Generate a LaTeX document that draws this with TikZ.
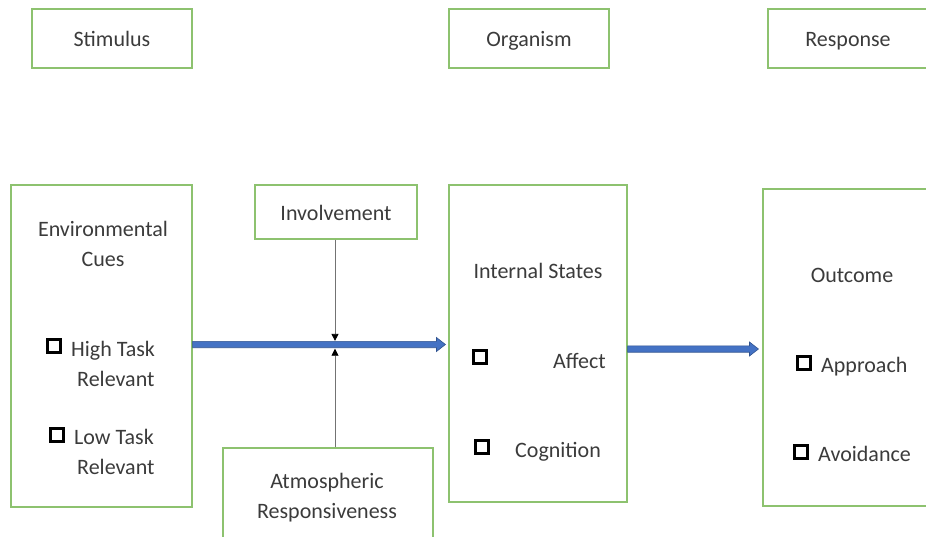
\documentclass[tikz,border=0pt]{standalone}
\usepackage{fontspec}
\setmainfont{Carlito}
\usetikzlibrary{arrows.meta,calc}
\definecolor{boxgreen}{HTML}{8DC26F}
\definecolor{txtgrey}{HTML}{3B3B3B}
\definecolor{arrowfill}{HTML}{4472C4}
\definecolor{arrowedge}{HTML}{2F528F}
\newcommand\blockarrow[2]{%
  \filldraw[fill=arrowfill,draw=arrowedge,line width=0.6pt]
    ($(#1)+(0,-3.2)$) -- ($(#2)+(-9,-3.2)$) -- ($(#2)+(-9,-7)$) -- (#2)
    -- ($(#2)+(-9,7)$) -- ($(#2)+(-9,3.2)$) -- ($(#1)+(0,3.2)$) -- cycle;}
\begin{document}
\begin{tikzpicture}[x=1pt,y=-1pt,
  gbox/.style={draw=boxgreen,line width=1.1pt,inner sep=0pt},
  lbl/.style={text=txtgrey,inner sep=0pt,anchor=base,align=center,
    font=\fontsize{22}{30}\selectfont},
  lblw/.style={lbl,anchor=base west},
  lble/.style={lbl,anchor=base east},
  sq/.style={draw=black,line width=3.2pt,minimum size=12.5pt,inner sep=0pt},
  thinarrow/.style={draw=black!55,line width=0.8pt,
    -{Triangle[length=7pt,width=7pt,color=black]}}]
\useasboundingbox (0,0) rectangle (926,537);
\clip (0,0) rectangle (926,537);
% top header boxes
\node[gbox,minimum width=160pt,minimum height=59pt] (stim) at (112,38.5) {};
\node[gbox,minimum width=160pt,minimum height=59pt] (org) at (529,38.5) {};
\node[gbox,minimum width=172pt,minimum height=59pt] (resp) at (854,38.5) {};
\node[lbl] (stimT) at (112,47) {Stimulus};
\node[lbl] (orgT) at (529,47) {Organism};
\node[lbl] (respT) at (848,47) {Response};
% main boxes
\node[gbox,minimum width=181pt,minimum height=322pt] (env) at (101.5,346) {};
\node[gbox,minimum width=162pt,minimum height=54pt] (inv) at (336,212) {};
\node[gbox,minimum width=178pt,minimum height=317pt] (int) at (538,343.5) {};
\node[gbox,minimum width=177pt,minimum height=317pt] (out) at (851.5,347.5) {};
\node[gbox,minimum width=210pt,minimum height=112pt] (atm) at (328,504) {};
% texts
\node[lbl] (envT) at (103,267) {Environmental\\Cues};
\node[sq] (s1) at (54,346) {};
\node[lblw] (hi1) at (71,356) {High Task};
\node[lblw] (hi2) at (77,386) {Relevant};
\node[sq] (s2) at (57,435) {};
\node[lblw] (lo1) at (74,444) {Low Task};
\node[lblw] (lo2) at (77,474) {Relevant};
\node[lbl] (invT) at (336,221) {Involvement};
\node[lbl] (atmT) at (327,518) {Atmospheric\\Responsiveness};
\node[lbl] (intT) at (538,279) {Internal States};
\node[sq] (s3) at (480,357) {};
\node[lble] (aff) at (606,368) {Affect};
\node[sq] (s4) at (482,447) {};
\node[lblw] (cog) at (515,457) {Cognition};
\node[lbl] (outT) at (852,283) {Outcome};
\node[sq] (s5) at (804,363) {};
\node[lblw] (app) at (821,372) {Approach};
\node[sq] (s6) at (801,452) {};
\node[lblw] (avo) at (818,461) {Avoidance};
% block arrows
\coordinate (a1e) at ($(int.west)+(-3,1)$);
\coordinate (a1s) at (env.east |- a1e);
\blockarrow{a1s}{a1e}
\coordinate (a2e) at ($(out.west)+(-4,1.5)$);
\coordinate (a2s) at (int.east |- a2e);
\blockarrow{a2s}{a2e}
% moderator arrows
\coordinate (m1) at (inv.south |- a1e);
\draw[thinarrow] ([xshift=-1pt]inv.south) -- ($(m1)+(-1,-3.6)$);
\draw[thinarrow] ($(atm.north -| inv.south)+(-1,0)$) -- ($(m1)+(-1,4.2)$);
\end{tikzpicture}
\end{document}
